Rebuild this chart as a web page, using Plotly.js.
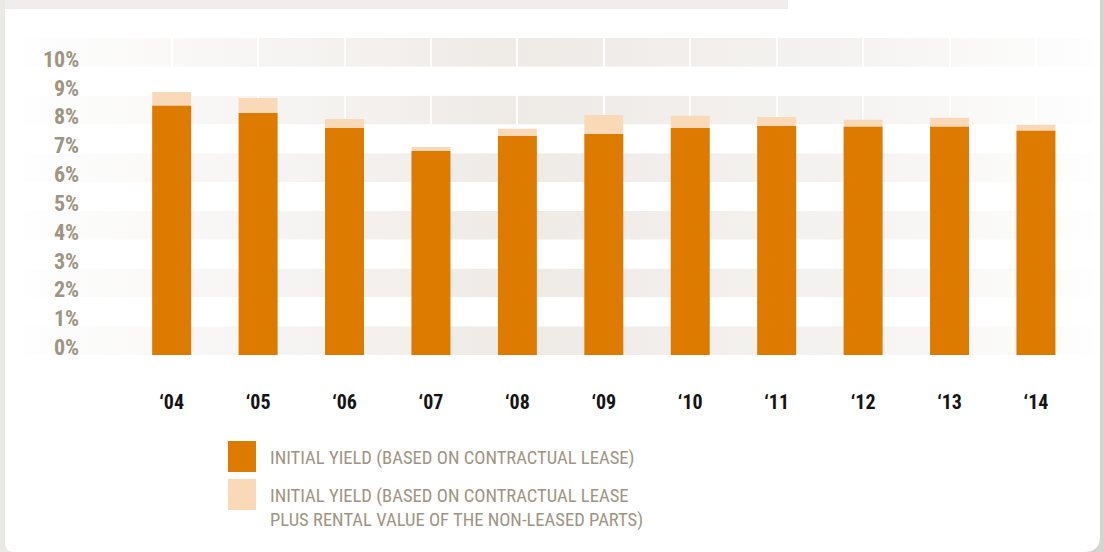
<!DOCTYPE html>
<html>
<head>
<meta charset="utf-8">
<script src="https://cdn.plot.ly/plotly-3.0.1.min.js"></script>
<style>
  html, body { margin: 0; padding: 0; background: #ffffff; }
  #chart { width: 1104px; height: 552px; }
</style>
</head>
<body>
<div id="chart"></div>
<script>
// ---- data ----
const years = ['\u201804', '\u201805', '\u201806', '\u201807', '\u201808', '\u201809', '\u201810', '\u201811', '\u201812', '\u201813', '\u201814'];
const contractualYield = [8.65, 8.40, 7.88, 7.08, 7.60, 7.67, 7.88, 7.95, 7.92, 7.92, 7.78];
const totalYield = [9.13, 8.92, 8.19, 7.22, 7.85, 8.33, 8.30, 8.26, 8.16, 8.23, 7.99];
const seriesNames = [
  'INITIAL YIELD (BASED ON CONTRACTUAL LEASE)',
  'INITIAL YIELD (BASED ON CONTRACTUAL LEASE<br>PLUS RENTAL VALUE OF THE NON-LEASED PARTS)'
];
const yTickVals = [0, 1, 2, 3, 4, 5, 6, 7, 8, 9, 10];
const yTickText = ['0%', '1%', '2%', '3%', '4%', '5%', '6%', '7%', '8%', '9%', '10%'];

// ---- style ----
const DARK = '#dd7a00';
const LIGHT = '#f9d9b8';
const GREY_TXT = '#a09482';
const NARROW = '"Roboto Condensed", "Liberation Sans Narrow", "Arial Narrow", "DejaVu Sans Condensed", sans-serif';

const W = 1104, H = 552;
const M = { l: 23, r: 11, t: 38, b: 197 };
const PW = W - M.l - M.r, PH = H - M.t - M.b;
const px = x => (x - M.l) / PW;       // pixel -> paper x
const py = y => (H - M.b - y) / PH;   // pixel -> paper y

const gradSvg = "<svg xmlns='http://www.w3.org/2000/svg' width='400' height='10' viewBox='0 0 400 10' preserveAspectRatio='none'>" +
  "<defs><linearGradient id='g' x1='0' y1='0' x2='1' y2='0'>" +
  "<stop offset='0' stop-color='#fefefe'/>" +
  "<stop offset='0.25' stop-color='#f6f4f2'/>" +
  "<stop offset='0.46' stop-color='#eeeae6'/>" +
  "<stop offset='0.75' stop-color='#f4f2f0'/>" +
  "<stop offset='1' stop-color='#fefefe'/>" +
  "</linearGradient></defs><rect x='0' y='0' width='400' height='10' fill='url(#g)'/></svg>";
const gradUri = 'data:image/svg+xml;charset=utf-8,' + encodeURIComponent(gradSvg);

// tinted bands on even ticks (0-1, 2-3, ..., 10-11)
const images = yTickVals.filter(v => v % 2 === 0).map(v => ({
  source: gradUri, xref: 'paper', yref: 'y', x: 0, y: v + 1, sizex: 1, sizey: 1,
  xanchor: 'left', yanchor: 'top', sizing: 'stretch', layer: 'below'
}));

const traces = [
  { type: 'bar', x: years, y: totalYield, name: seriesNames[1], marker: { color: LIGHT }, width: 0.45, hoverinfo: 'x+y' },
  { type: 'bar', x: years, y: contractualYield, name: seriesNames[0], marker: { color: DARK }, width: 0.45, hoverinfo: 'x+y' }
];

const annotations = yTickVals.map((v, i) => ({
  xref: 'paper', yref: 'y', x: px(81), y: v, xanchor: 'right', yanchor: 'bottom', yshift: -7,
  text: yTickText[i], showarrow: false,
  font: { family: NARROW, size: 22, color: GREY_TXT, weight: 700 }
}));
annotations.push({
  xref: 'paper', yref: 'paper', x: px(268), y: py(458), xanchor: 'left', yanchor: 'middle',
  text: seriesNames[0], showarrow: false, align: 'left',
  font: { family: NARROW, size: 18.6, color: GREY_TXT }
});
annotations.push({
  xref: 'paper', yref: 'paper', x: px(268), y: py(508), xanchor: 'left', yanchor: 'middle',
  text: seriesNames[1], showarrow: false, align: 'left',
  font: { family: NARROW, size: 18.6, color: GREY_TXT }
});

const shapes = [
  // legend swatches
  { type: 'rect', xref: 'paper', yref: 'paper', x0: px(228), x1: px(256), y0: py(441), y1: py(472), fillcolor: DARK, line: { width: 0 } },
  { type: 'rect', xref: 'paper', yref: 'paper', x0: px(228), x1: px(256), y0: py(479), y1: py(510), fillcolor: LIGHT, line: { width: 0 } },
  // page frame around the card
  { type: 'rect', xref: 'paper', yref: 'paper', x0: px(0), x1: px(788), y0: py(0), y1: py(9), fillcolor: '#efeeec', line: { width: 0 } },
  { type: 'rect', xref: 'paper', yref: 'paper', x0: px(0), x1: px(5), y0: py(0), y1: py(552), fillcolor: '#ebe9e6', line: { width: 0 } },
  { type: 'rect', xref: 'paper', yref: 'paper', x0: px(1100), x1: px(1104), y0: py(0), y1: py(552), fillcolor: '#d6d4d1', line: { width: 0 } },
  { type: 'path', xref: 'paper', yref: 'paper', fillcolor: '#d6d4d1', line: { width: 0 },
    path: `M ${px(1084)},${py(552)} Q ${px(1100)},${py(552)} ${px(1100)},${py(536)} L ${px(1104)},${py(536)} L ${px(1104)},${py(552)} Z` },
  { type: 'path', xref: 'paper', yref: 'paper', fillcolor: '#ebe9e6', line: { width: 0 },
    path: `M ${px(5)},${py(542)} Q ${px(5)},${py(552)} ${px(14)},${py(552)} L ${px(5)},${py(552)} Z` }
];

const layout = {
  width: W, height: H,
  margin: M,
  paper_bgcolor: '#ffffff',
  plot_bgcolor: 'rgba(0,0,0,0)',
  barmode: 'overlay',
  showlegend: false,
  xaxis: {
    type: 'category', range: [-1.72, 10.66], fixedrange: true,
    showgrid: true, gridcolor: '#ffffff', gridwidth: 2,
    zeroline: false, showline: false,
    ticks: 'outside', ticklen: 29, tickcolor: 'rgba(0,0,0,0)',
    tickfont: { family: NARROW, size: 20, color: '#141414', weight: 700 }
  },
  yaxis: {
    range: [0, 11], fixedrange: true, showgrid: false, zeroline: false, showline: false,
    showticklabels: false, tickvals: yTickVals, ticktext: yTickText
  },
  images: images,
  shapes: shapes,
  annotations: annotations
};

Plotly.newPlot('chart', traces, layout, { displayModeBar: false, staticPlot: true });
</script>
</body>
</html>
